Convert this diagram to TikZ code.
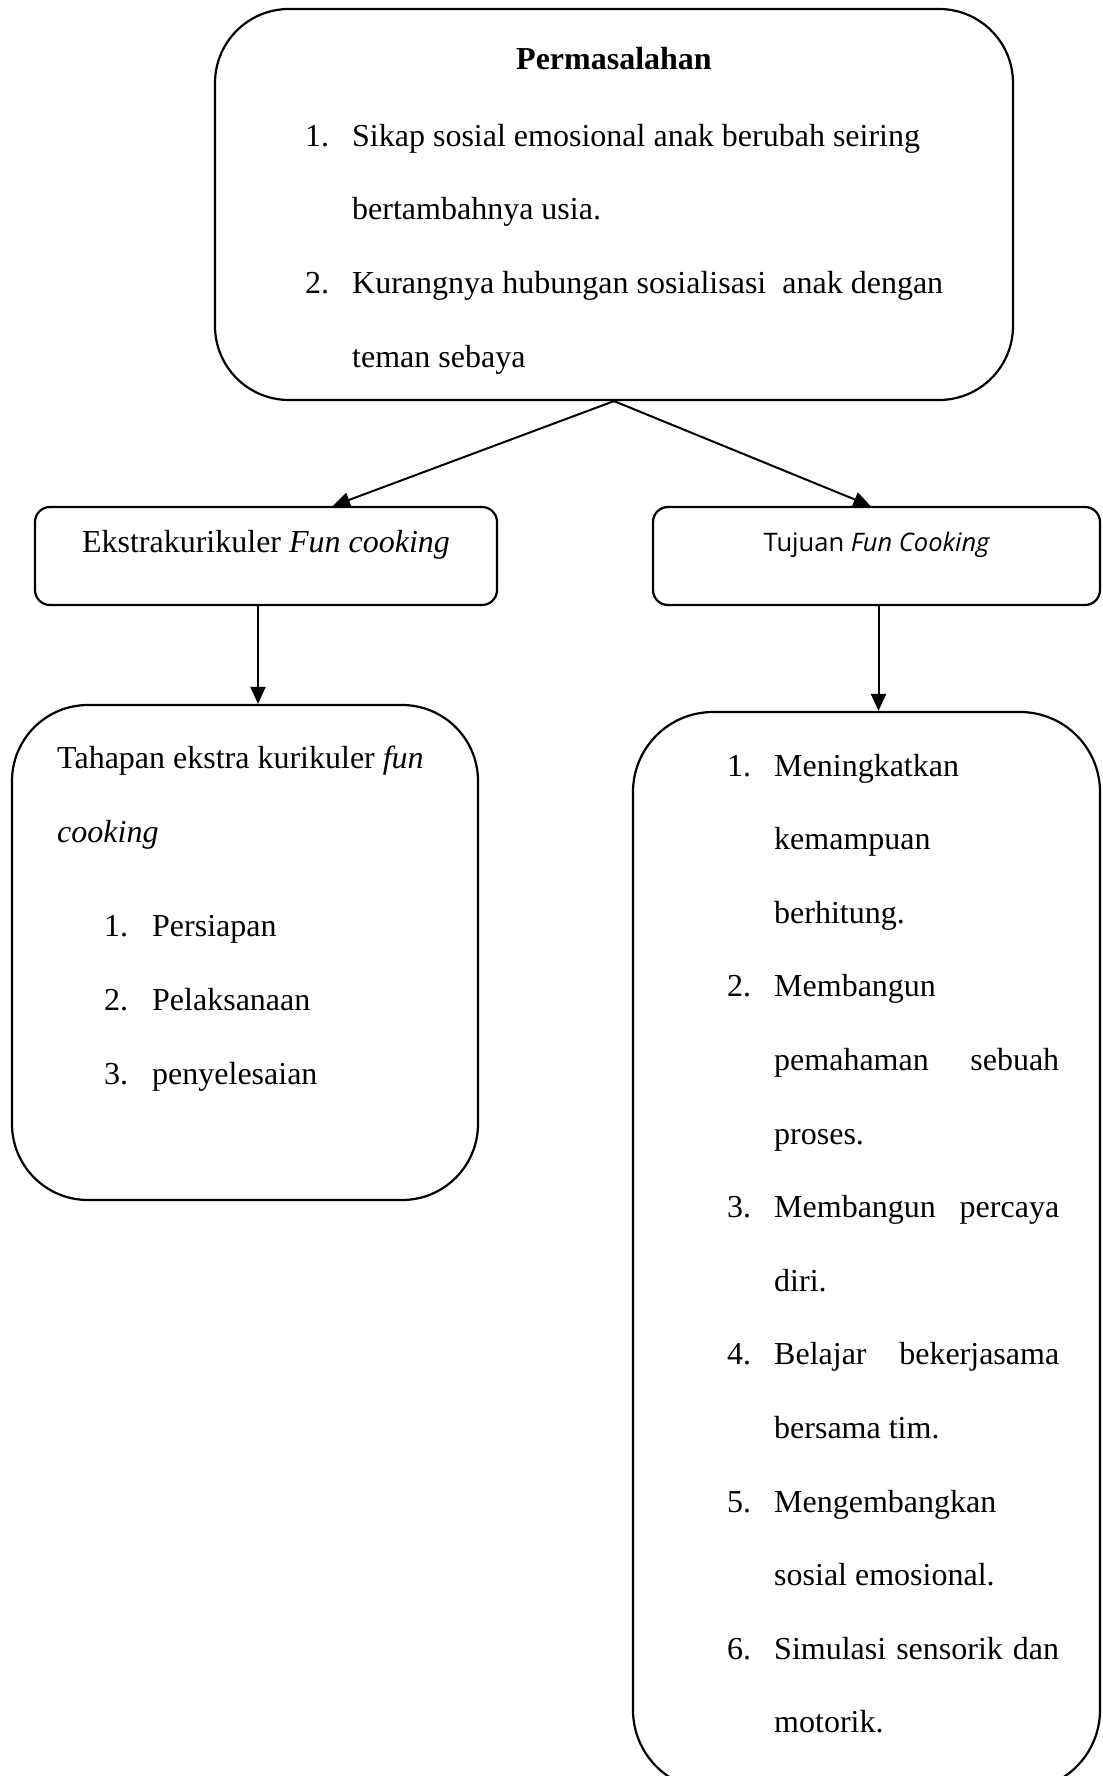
\documentclass[tikz,border=0pt]{standalone}
\usepackage{fontspec}
\setmainfont{Liberation Serif}
\newfontfamily\uisans{Open Sans}
\usetikzlibrary{arrows.meta}
\begin{document}
\begin{tikzpicture}[x=1pt,y=-1pt,
  box/.style={draw, line width=2.2pt, inner sep=0pt},
  txt/.style={anchor=base west, inner sep=0pt, font=\fontsize{32}{38}\selectfont},
  ctxt/.style={anchor=base, inner sep=0pt, font=\fontsize{32}{38}\selectfont},
  arr/.style={line width=2pt, -{Triangle[length=17pt,width=15pt]}}
]
\useasboundingbox (0,0) rectangle (1102,1776);

% boxes
\node[box, rounded corners=74pt, minimum width=798pt, minimum height=391pt] (top) at (614,204.5) {};
\node[box, rounded corners=15pt, minimum width=462pt, minimum height=98pt] (ekstra) at (266,556) {};
\node[box, rounded corners=15pt, minimum width=447pt, minimum height=98pt] (tujuan) at (876.5,556) {};
\node[box, rounded corners=76pt, minimum width=466pt, minimum height=495pt] (tahapan) at (245,952.5) {};
\node[box, rounded corners=80pt, minimum width=467pt, minimum height=1078pt] (tujuanlist) at (866.5,1251) {};

% top box text
\node[ctxt, font=\fontsize{32}{38}\selectfont\bfseries] (ptitle) at (614,70) {Permasalahan};
\node[txt] (pn1) at (305,147) {1.};
\node[txt] (pl1) at (352,147) {Sikap sosial emosional anak berubah seiring};
\node[txt] (pl2) at (352,220) {bertambahnya usia.};
\node[txt] (pn2) at (305,294) {2.};
\node[txt] (pl3) at (352,294) {Kurangnya hubungan sosialisasi\ \ anak dengan};
\node[txt] (pl4) at (352,367) {teman sebaya};

% small boxes text
\node[ctxt] (etext) at (266,552) {Ekstrakurikuler \textit{Fun cooking}};
\node[anchor=base, inner sep=0pt, font=\fontsize{25.5}{30}\selectfont\uisans] (ttext) at (877,551) {Tujuan \textit{Fun Cooking}};

% tahapan text
\node[txt] (th1) at (57,768) {Tahapan ekstra kurikuler \textit{fun}};
\node[txt] (th2) at (57,842) {\textit{cooking}};
\node[txt] (tn1) at (104,936) {1.};
\node[txt] (tl1) at (152,936) {Persiapan};
\node[txt] (tn2) at (104,1010) {2.};
\node[txt] (tl2) at (152,1010) {Pelaksanaan};
\node[txt] (tn3) at (104,1084) {3.};
\node[txt] (tl3) at (152,1084) {penyelesaian};

% tujuan list text
\node[txt] (rn1) at (727,776) {1.};
\node[txt] (r0) at (774,776) {Meningkatkan};
\node[txt] (r1) at (774,849.6) {kemampuan};
\node[txt] (r2) at (774,923.2) {berhitung.};
\node[txt] (rn2) at (727,996.8) {2.};
\node[txt] (r3) at (774,996.8) {Membangun};
\node[txt] (r4) at (774,1070.4) {\makebox[285pt][s]{pemahaman sebuah}};
\node[txt] (r5) at (774,1144) {proses.};
\node[txt] (rn3) at (727,1217.6) {3.};
\node[txt] (r6) at (774,1217.6) {\makebox[285pt][s]{Membangun percaya}};
\node[txt] (r7) at (774,1291.2) {diri.};
\node[txt] (rn4) at (727,1364.8) {4.};
\node[txt] (r8) at (774,1364.8) {\makebox[285pt][s]{Belajar bekerjasama}};
\node[txt] (r9) at (774,1438.4) {bersama tim.};
\node[txt] (rn5) at (727,1512) {5.};
\node[txt] (r10) at (774,1512) {Mengembangkan};
\node[txt] (r11) at (774,1585.6) {sosial emosional.};
\node[txt] (rn6) at (727,1659.2) {6.};
\node[txt] (r12) at (774,1659.2) {\makebox[285pt][s]{Simulasi sensorik dan}};
\node[txt] (r13) at (774,1732.8) {motorik.};

% connectors
\draw[arr] (top.south) -- ([xshift=67pt]ekstra.north);
\draw[arr] (top.south) -- ([xshift=-6pt]tujuan.north);
\draw[arr] ([xshift=-8pt]ekstra.south) -- ([xshift=-8pt]ekstra.south |- tahapan.north);
\draw[arr] ([xshift=2pt]tujuan.south) -- ([xshift=2pt]tujuan.south |- tujuanlist.north);
\end{tikzpicture}
\end{document}
